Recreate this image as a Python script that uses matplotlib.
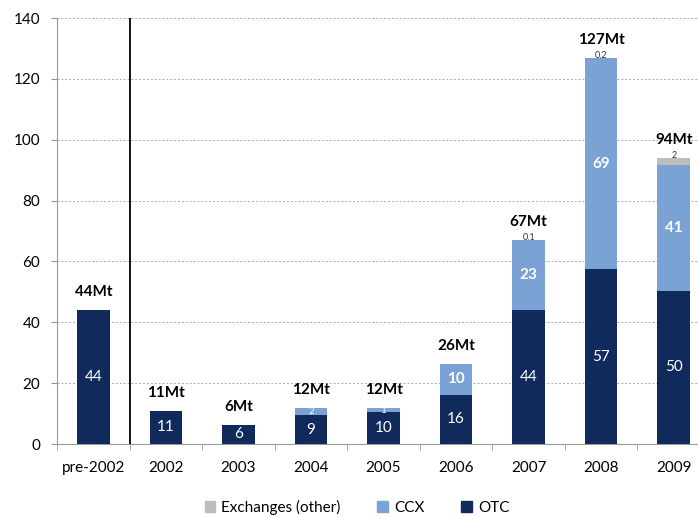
import numpy as np
import matplotlib.pyplot as plt
from matplotlib.patches import Patch

plt.rcParams['font.family'] = ['Lato', 'DejaVu Sans']

years = ['pre-2002', '2002', '2003', '2004', '2005', '2006', '2007', '2008', '2009']
otc = [44.0, 11.0, 6.4, 9.4, 10.4, 16.2, 44.2, 57.4, 50.4]
ccx = [0, 0, 0, 2.4, 1.4, 10.1, 22.9, 69.4, 41.4]
exch = [0, 0, 0, 0, 0, 0, 0.1, 0.2, 2.2]
exch_labels = ['', '', '', '', '', '', '0.1', '0.2', '2']

c_otc = '#112a5c'
c_ccx = '#7aa2d4'
c_exch = '#bdbdbd'

fig = plt.figure(figsize=(6.98, 5.17), dpi=100)
ax = fig.add_axes([57 / 698, 1 - 444 / 517, 653 / 698, 426 / 517])

x = np.arange(len(years))
otc = np.array(otc)
ccx = np.array(ccx)
exch = np.array(exch)
w = 0.45

ax.bar(x, otc, w, color=c_otc, zorder=3)
ax.bar(x, ccx, w, bottom=otc, color=c_ccx, zorder=3)
ax.bar(x, exch, w, bottom=otc + ccx, color=c_exch, zorder=3)

for i in range(len(years)):
    ax.text(x[i], otc[i] / 2, f'{otc[i]:.0f}', color='white', ha='center',
            va='center', fontsize=11, zorder=4)
    if ccx[i] >= 5:
        ax.text(x[i], otc[i] + ccx[i] / 2, f'{ccx[i]:.0f}', color='white',
                ha='center', va='center', fontsize=11, fontweight='bold', zorder=4)
    elif ccx[i] > 0:
        ax.text(x[i], otc[i] + ccx[i] / 2, f'{ccx[i]:.0f}', color='white',
                ha='center', va='center', fontsize=7, zorder=4)
    total = otc[i] + ccx[i] + exch[i]
    if exch_labels[i]:
        ax.text(x[i], total - 0.8, exch_labels[i], color='#333333', ha='center',
                va='bottom', fontsize=6.5, zorder=4)
    ax.text(x[i], total + 3.5, f'{total:.0f}Mt', color='black', ha='center',
            va='bottom', fontsize=11, fontweight='bold', zorder=4)

# separator between pre-2002 and the yearly data
ax.axvline(0.5, color='black', lw=1.3, zorder=4)

ax.set_xlim(-0.5, len(years) - 0.5)
ax.set_ylim(0, 140)
ax.set_yticks(range(0, 141, 20))
ax.set_xticks(x)
ax.set_xticklabels(years)
ax.set_xticks(np.arange(-0.5, len(years), 1), minor=True)
ax.tick_params(axis='x', which='major', length=0, pad=12, labelsize=11)
ax.tick_params(axis='x', which='minor', length=4, color='#999999')
ax.tick_params(axis='y', length=4, color='#999999', labelsize=11, pad=8)
ax.yaxis.grid(True, linestyle=(0, (2, 2)), color='#aaaaaa', lw=0.7, zorder=0)
for s in ['top', 'right']:
    ax.spines[s].set_visible(False)
for s in ['left', 'bottom']:
    ax.spines[s].set_color('#999999')

handles = [Patch(color=c_exch, label='Exchanges (other)'),
           Patch(color=c_ccx, label='CCX'),
           Patch(color=c_otc, label='OTC')]
fig.legend(handles=handles, loc='center', bbox_to_anchor=(357 / 698, 1 - 507 / 517),
           ncol=3, frameon=False, fontsize=11, handlelength=0.7, handleheight=0.7,
           handletextpad=0.4, columnspacing=2.4)

fig.savefig('out.png', dpi=100)
